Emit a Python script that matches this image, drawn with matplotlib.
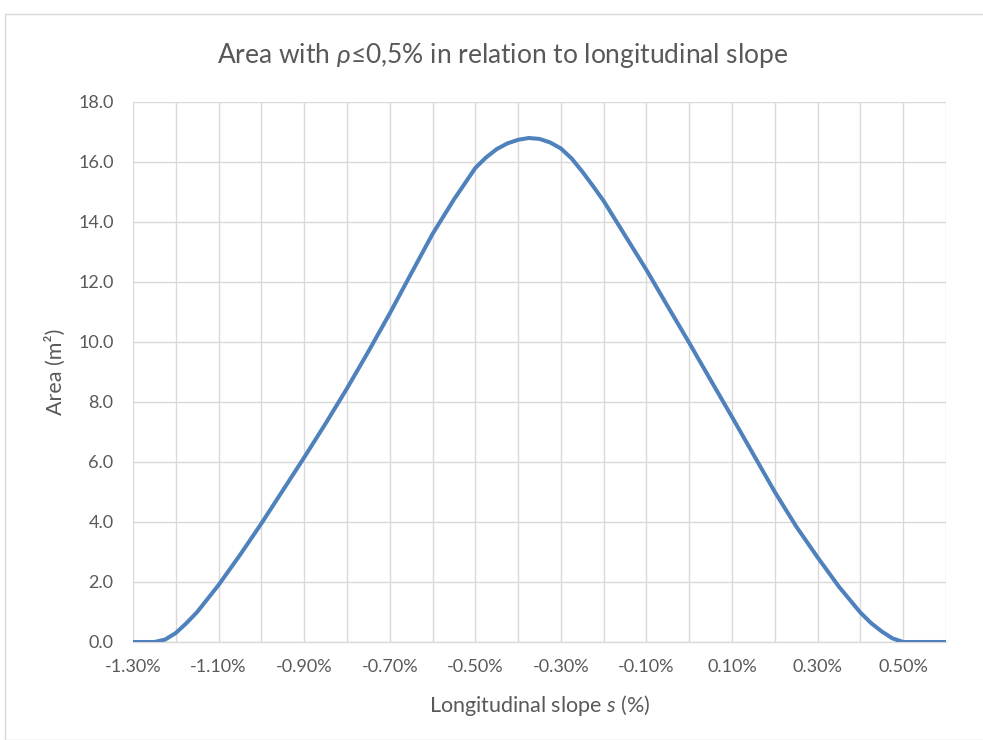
import matplotlib
matplotlib.use('Agg')
import matplotlib.pyplot as plt
from matplotlib.patches import Rectangle

# ---- font settings ----
plt.rcParams['font.family'] = ['Lato', 'DejaVu Sans']
plt.rcParams['mathtext.fontset'] = 'custom'
plt.rcParams['mathtext.rm'] = 'Lato'
plt.rcParams['mathtext.it'] = 'Lato:italic'
plt.rcParams['mathtext.fallback'] = 'stixsans'

# ---- data ----
slope = [-1.30, -1.25, -1.225, -1.20, -1.175, -1.15, -1.10, -1.05, -1.00, -0.95, -0.90,
         -0.85, -0.80, -0.75, -0.70, -0.65, -0.60, -0.55, -0.50, -0.475, -0.45,
         -0.425, -0.40, -0.375, -0.35, -0.325, -0.30, -0.275, -0.25, -0.225, -0.20, -0.15,
         -0.10, -0.05, 0.00, 0.05, 0.10, 0.15, 0.20, 0.25, 0.30, 0.35,
         0.40, 0.425, 0.45, 0.475, 0.50, 0.55, 0.60]
area = [0.0, 0.0, 0.08, 0.3, 0.63, 1.0, 1.9, 2.9, 3.95, 5.05, 6.15,
        7.28, 8.45, 9.68, 10.95, 12.28, 13.6, 14.75, 15.8, 16.15, 16.43,
        16.62, 16.74, 16.8, 16.77, 16.65, 16.45, 16.12, 15.68, 15.2, 14.7, 13.55,
        12.4, 11.18, 9.97, 8.73, 7.5, 6.25, 5.0, 3.85, 2.82, 1.84,
        0.98, 0.63, 0.35, 0.12, 0.0, 0.0, 0.0]
xtick_vals = [-1.3, -1.1, -0.9, -0.7, -0.5, -0.3, -0.1, 0.1, 0.3, 0.5]
ytick_vals = [0, 2, 4, 6, 8, 10, 12, 14, 16, 18]

text_color = '#595959'
grid_color = '#d9d9d9'

W, H = 983, 740
fig = plt.figure(figsize=(W / 100, H / 100), dpi=100)

# chart border
fig.patches.append(Rectangle((5 / W, 0), 1.1, 1 - 14 / H, transform=fig.transFigure,
                             fill=False, edgecolor='#d9d9d9', linewidth=1))

ax = fig.add_axes([133 / W, 1 - 642 / H, (946 - 133) / W, (642 - 102) / H])

ax.plot(slope, area, color='#4f81bd', linewidth=2.9, solid_capstyle='butt',
        solid_joinstyle='round', zorder=3)

# ---- axes ----
ax.set_xlim(-1.3, 0.6)
ax.set_ylim(0, 18)
ax.set_xticks(xtick_vals)
ax.set_xticks([-1.2, -1.0, -0.8, -0.6, -0.4, -0.2, 0.0, 0.2, 0.4, 0.6], minor=True)
ax.set_xticklabels(['%.2f%%' % v for v in xtick_vals])
ax.set_yticks(ytick_vals)
ax.set_yticklabels(['%.1f' % v for v in ytick_vals])
ax.grid(True, which='both', color=grid_color, linewidth=1.0, zorder=0)
ax.set_axisbelow(True)
ax.tick_params(which='both', length=0, labelsize=13, colors=text_color)
ax.tick_params(axis='x', pad=12)
ax.tick_params(axis='y', pad=14)
for side in ['top', 'right', 'left']:
    ax.spines[side].set_visible(False)
ax.spines['bottom'].set_color(grid_color)
ax.spines['bottom'].set_linewidth(1.0)

# ---- labels ----
fig.text(503 / W, 1 - 55 / H, r'Area with $\rho$≤0,5% in relation to longitudinal slope',
         ha='center', va='center', fontsize=19, color=text_color)
fig.text(540 / W, 1 - 705 / H, r'Longitudinal slope $s$ (%)',
         ha='center', va='center', fontsize=15.5, color=text_color)
fig.text(55 / W, 1 - 372 / H, 'Area (m²)', rotation=90,
         ha='center', va='center', fontsize=15.5, color=text_color)

fig.savefig('out.png', dpi=100, facecolor='white')
